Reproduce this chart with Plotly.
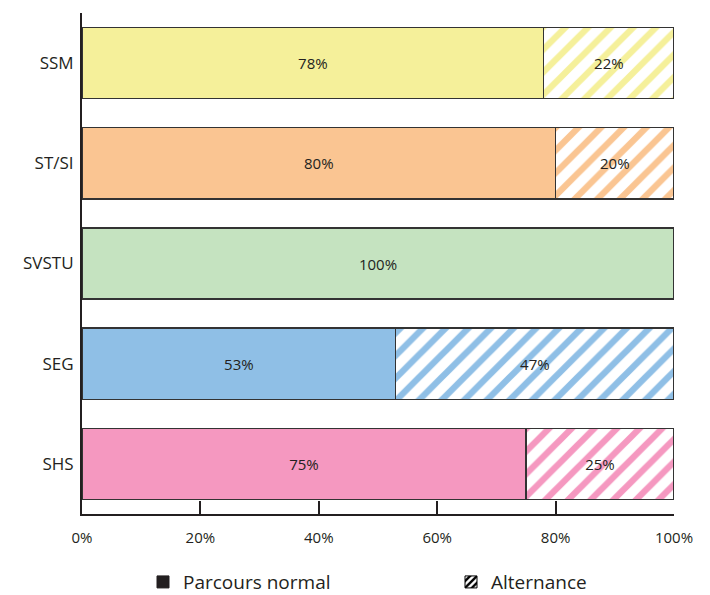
import plotly.graph_objects as go

# categories from bottom to top
categories = ['SHS', 'SEG', 'SVSTU', 'ST/SI', 'SSM']
normal = [75, 53, 100, 80, 78]
alternance = [25, 47, None, 20, 22]
colors = ['#F598C0', '#8FBFE6', '#C5E3C0', '#FAC592', '#F5F09A']
x_ticks = [0, 20, 40, 60, 80, 100]
x_labels = ['0%', '20%', '40%', '60%', '80%', '100%']

FONT = 'Open Sans'
DARK = '#231F20'
W, H = 702, 587  # page adds an 8px body margin


def pct(values):
    return ['' if v is None else '%d%%' % v for v in values]


fig = go.Figure()

fig.add_trace(go.Bar(
    y=categories, x=normal, orientation='h', width=0.71,
    marker=dict(color=colors, line=dict(color='#333333', width=1.3)),
    text=pct(normal), textposition='inside', insidetextanchor='middle',
    textangle=0, constraintext='none',
    textfont=dict(family=FONT, size=15, color=DARK),
    showlegend=False,
))
fig.add_trace(go.Bar(
    y=categories, x=alternance, orientation='h', width=0.71,
    marker=dict(color=colors, line=dict(color='#333333', width=1.3),
                pattern=dict(shape='/', fgcolor=colors, bgcolor='white',
                             size=16, solidity=0.4, fillmode='replace')),
    text=pct(alternance), textposition='inside', insidetextanchor='middle',
    textangle=0, constraintext='none',
    textfont=dict(family=FONT, size=15, color=DARK),
    showlegend=False,
))

# legend entries only
fig.add_trace(go.Bar(
    y=[None], x=[None], orientation='h', name='Parcours normal',
    marker=dict(color=DARK, line=dict(color=DARK, width=1)),
    legend='legend',
))
fig.add_trace(go.Bar(
    y=[None], x=[None], orientation='h', name='Alternance',
    marker=dict(color='black', line=dict(color='black', width=1),
                pattern=dict(shape='/', fgcolor='black', bgcolor='white',
                             size=6, solidity=0.5, fillmode='replace')),
    legend='legend2',
))

legend_style = dict(orientation='h', xref='container', yref='container',
                    xanchor='left', yanchor='middle', y=0.022,
                    font=dict(family=FONT, size=19, color=DARK))

fig.update_layout(
    barmode='stack',
    width=W, height=H,
    margin=dict(l=74, r=36, t=5, b=81, autoexpand=False),
    plot_bgcolor='white', paper_bgcolor='white',
    font=dict(family=FONT, color=DARK),
    legend=dict(x=135 / W, **legend_style),
    legend2=dict(x=443 / W, **legend_style),
)
fig.update_xaxes(
    range=[0, 100], tickvals=x_ticks, ticktext=x_labels,
    showgrid=False, zeroline=False,
    showline=True, linecolor=DARK, linewidth=2,
    ticks='inside', ticklen=13, tickwidth=2, tickcolor=DARK,
    ticklabelstandoff=9,
    tickfont=dict(family=FONT, size=15, color=DARK),
)
fig.update_yaxes(
    range=[-0.5, 4.5], showgrid=False, zeroline=False,
    showline=True, linecolor=DARK, linewidth=2, ticks='',
    ticklabelstandoff=3,
    tickfont=dict(family=FONT, size=17, color=DARK),
)

fig.write_html("out.html")
